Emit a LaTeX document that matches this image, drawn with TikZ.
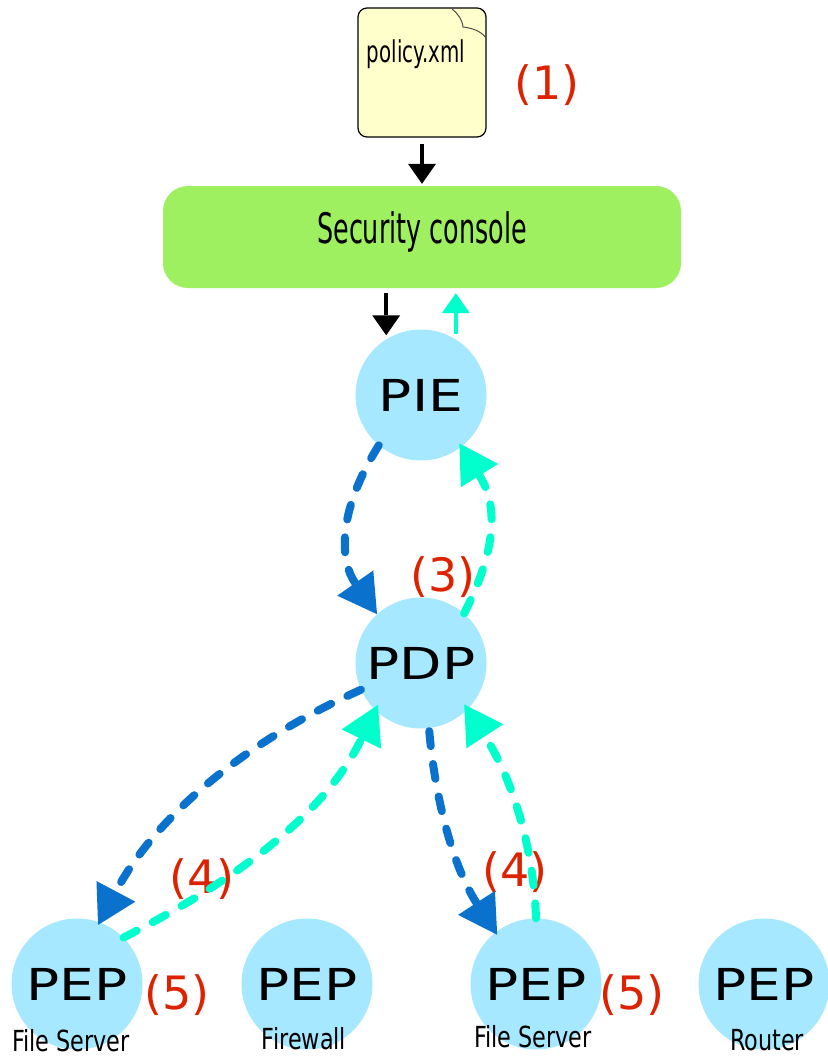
\documentclass[tikz,border=0pt]{standalone}
\usepackage{fontspec}
\usetikzlibrary{arrows.meta,shapes.geometric}
\newfontfamily\circlefont[FakeStretch=1.25]{DejaVu Sans}
\newfontfamily\narrowfont[FakeStretch=0.77]{DejaVu Sans}
\newfontfamily\redfont{DejaVu Sans}
\definecolor{circleblue}{HTML}{A5E8FF}
\definecolor{darkblue}{HTML}{0A72CC}
\definecolor{aqua}{HTML}{00FFCC}
\definecolor{consolegreen}{HTML}{9EF060}
\definecolor{noteyellow}{HTML}{FFFFCC}
\definecolor{stepred}{HTML}{DD2200}
\tikzset{main node/.style={circle,fill=circleblue,minimum size=131pt,inner sep=0pt,font=\circlefont\fontsize{44pt}{44pt}\selectfont},
         step label/.style={inner sep=0pt,text=stepred,font=\redfont\fontsize{46pt}{46pt}\selectfont},
         small label/.style={inner sep=0pt,font=\narrowfont\fontsize{29pt}{29pt}\selectfont},
         dash edge/.style={line width=8pt,line cap=round,dash pattern=on 15pt off 18pt,-{Triangle[length=38pt,width=44pt,line width=0pt]}},
         thin edge/.style={line width=3.5pt,-{Triangle[length=20pt,width=28pt,line width=0pt]}}
}
\begin{document}
\begin{tikzpicture}[x=1pt,y=-1pt]
\useasboundingbox (0,0) rectangle (827,1057);

\node [step label] (s1) at (547,85) {(1)};
\node [step label] (s2) at (623,242) {(2)};
\node [step label] (s3) at (443,577) {(3)};
\node [step label] (s4a) at (202,879) {(4)};
\node [step label] (s4b) at (515,872) {(4)};
\node [step label] (s5a) at (177,995) {(5)};
\node [step label] (s5b) at (632,995) {(5)};

\node [rectangle,rounded corners=9pt,draw=black,line width=1.2pt,fill=noteyellow,minimum width=128pt,minimum height=129pt,inner sep=0pt] (policy) at (422,72.5) {};
\draw [line width=1pt,black!70] (452,9) .. controls (458,14) and (462,19) .. (463,27) .. controls (472,28) and (481,31) .. (486,38);
\node [inner sep=0pt,font=\narrowfont\fontsize{30pt}{30pt}\selectfont] (policytext) at (416,54) {\addfontfeature{FakeStretch=0.66}policy.xml};

\node [rectangle,rounded corners=25pt,fill=consolegreen,minimum width=518pt,minimum height=102pt,inner sep=0pt] (console) at (422,237) {};
\node [inner sep=0pt,font=\narrowfont\fontsize{42pt}{42pt}\selectfont] (consoletext) at (422,232) {\addfontfeature{FakeStretch=0.605}Security console};

\node [main node] (pie) at (421,395) {PIE};
\node [main node] (pdp) at (421,663) {PDP};
\node [main node] (pep1) at (77,984) {PEP};
\node [main node] (pep2) at (307,984) {PEP};
\node [main node] (pep3) at (536,984) {PEP};
\node [main node] (pep4) at (764,984) {PEP};

\node [small label] (fs1) at (71,1041) {File Server};
\node [small label] (fw) at (304,1039) {Firewall};
\node [small label] (fs2) at (533,1037) {File Server};
\node [small label] (rt) at (767,1040) {Router};

\draw [thin edge,black,shorten <=6pt,shorten >=2pt] (policy) -- (console);
\draw [thin edge,black,shorten <=5pt,shorten >=4pt] (console.south -| pie.122) -- (pie.122);
\draw [thin edge,aqua,shorten <=5pt,shorten >=5pt] (pie.58) -- (console.south -| pie.58);

\draw [dash edge,darkblue] (pie.230) to [out=238,in=125,out looseness=1.25,in looseness=0.95] (pdp.132);
\draw [dash edge,aqua,shorten >=-4pt] (pdp.49) to [out=63,in=-58,out looseness=1.2,in looseness=1] (pie.-52);
\draw [dash edge,darkblue,shorten >=-3pt] (pdp.204) to [out=204,in=62,looseness=0.9] (pep1.70);
\draw [dash edge,aqua,shorten >=-6pt] (pep1.45) to [out=27,in=244,looseness=0.9] (pdp.226);
\draw [dash edge,darkblue,shorten <=3pt,shorten >=-3pt] (pdp.277) to [out=275,in=123,looseness=0.9] (pep3.128);
\draw [dash edge,aqua,shorten >=-6pt] (pep3.90) to [out=92,in=-57,looseness=0.9] (pdp.-45);
\end{tikzpicture}
\end{document}
